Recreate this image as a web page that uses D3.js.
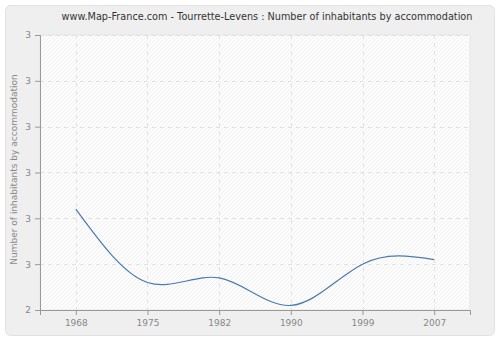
<!DOCTYPE html>
<html>
<head>
<meta charset="utf-8">
<script src="https://cdn.jsdelivr.net/npm/d3@7"></script>
<style>
  body { margin: 0; background: #fff; }
  text { font-family: "DejaVu Sans", Verdana, sans-serif; }
</style>
</head>
<body>
<svg id="chart" width="500" height="340"></svg>
<script>
// data
var years = ['1968', '1975', '1982', '1990', '1999', '2007'];
var values = [2.62, 2.46, 2.47, 2.41, 2.50, 2.51];
var yTicks = [2.4, 2.5, 2.6, 2.7, 2.8, 2.9, 3.0];
var yTickLabels = ['2', '3', '3', '3', '3', '3', '3'];

var margin = {top: 35, right: 30, bottom: 30, left: 40},
  width = 500 - margin.left - margin.right,
  height = 340 - margin.top - margin.bottom;

var svg = d3.select('#chart');

// hatch pattern for plot background
var defs = svg.append('defs');
var pat = defs.append('pattern')
  .attr('id', 'hatch')
  .attr('width', 4).attr('height', 4)
  .attr('patternUnits', 'userSpaceOnUse');
pat.append('rect').attr('width', 4).attr('height', 4).attr('fill', '#fdfdfd');
pat.append('path').attr('d', 'M0,4 L4,0 M-1,1 L1,-1 M3,5 L5,3')
  .attr('stroke', '#efefef').attr('stroke-width', 1);

// outer panel
svg.append('rect')
  .attr('x', 5.5).attr('y', 5.5)
  .attr('width', 489).attr('height', 330)
  .attr('rx', 5)
  .attr('fill', '#efefef')
  .attr('stroke', '#e2e2e2');

svg.append('text')
  .attr('x', 267).attr('y', 20)
  .attr('text-anchor', 'middle')
  .attr('font-size', 9.7)
  .attr('fill', '#333')
  .text('www.Map-France.com - Tourrette-Levens : Number of inhabitants by accommodation');

var x = d3.scalePoint().domain(years).range([0, width]).padding(0.5);
var y = d3.scaleLinear().domain([2.4, 3.0]).range([height, 0]);

var g = svg.append('g')
  .attr('transform', 'translate(' + margin.left + ',' + margin.top + ')');

g.append('rect')
  .attr('width', width).attr('height', height)
  .attr('fill', 'url(#hatch)')
  .attr('stroke', '#e6e6e6');

// grid
g.selectAll('.hgrid')
  .data(yTicks)
  .enter().append('line')
  .attr('class', 'hgrid')
  .attr('x1', 0).attr('x2', width)
  .attr('y1', function(d) { return Math.round(y(d)) + 0.5; })
  .attr('y2', function(d) { return Math.round(y(d)) + 0.5; })
  .attr('stroke', '#e2e2e2')
  .attr('stroke-dasharray', '4,4');

g.selectAll('.vgrid')
  .data(years)
  .enter().append('line')
  .attr('class', 'vgrid')
  .attr('y1', 0).attr('y2', height)
  .attr('x1', function(d) { return Math.round(x(d)) + 0.5; })
  .attr('x2', function(d) { return Math.round(x(d)) + 0.5; })
  .attr('stroke', '#e2e2e2')
  .attr('stroke-dasharray', '4,4');

// axes
var xAxis = d3.axisBottom(x).tickSize(5).tickPadding(5);
var yAxis = d3.axisLeft(y).tickValues(yTicks).tickSize(5).tickPadding(4)
  .tickFormat(function(d, i) { return yTickLabels[i]; });

var gx = g.append('g')
  .attr('transform', 'translate(0,' + height + ')')
  .call(xAxis);
var gy = g.append('g').call(yAxis);

[gx, gy].forEach(function(a) {
  a.select('.domain').attr('stroke', '#999');
  a.selectAll('.tick line').attr('stroke', '#999');
  a.selectAll('.tick text')
    .attr('fill', '#888')
    .style('font-family', '"DejaVu Sans", Verdana, sans-serif')
    .attr('font-size', 9);
});

// line
var line = d3.line()
  .x(function(d, i) { return x(years[i]); })
  .y(function(d) { return y(d); })
  .curve(d3.curveNatural);

g.append('path')
  .datum(values)
  .attr('d', line)
  .attr('fill', 'none')
  .attr('stroke', '#4a7bb0')
  .attr('stroke-width', 1.2);

svg.append('text')
  .attr('transform', 'translate(14,' + (margin.top + height / 2 - 3) + ') rotate(-90)')
  .attr('dy', '0.35em')
  .attr('text-anchor', 'middle')
  .attr('font-size', 9)
  .attr('fill', '#888')
  .text('Number of inhabitants by accommodation');
</script>
</body>
</html>
